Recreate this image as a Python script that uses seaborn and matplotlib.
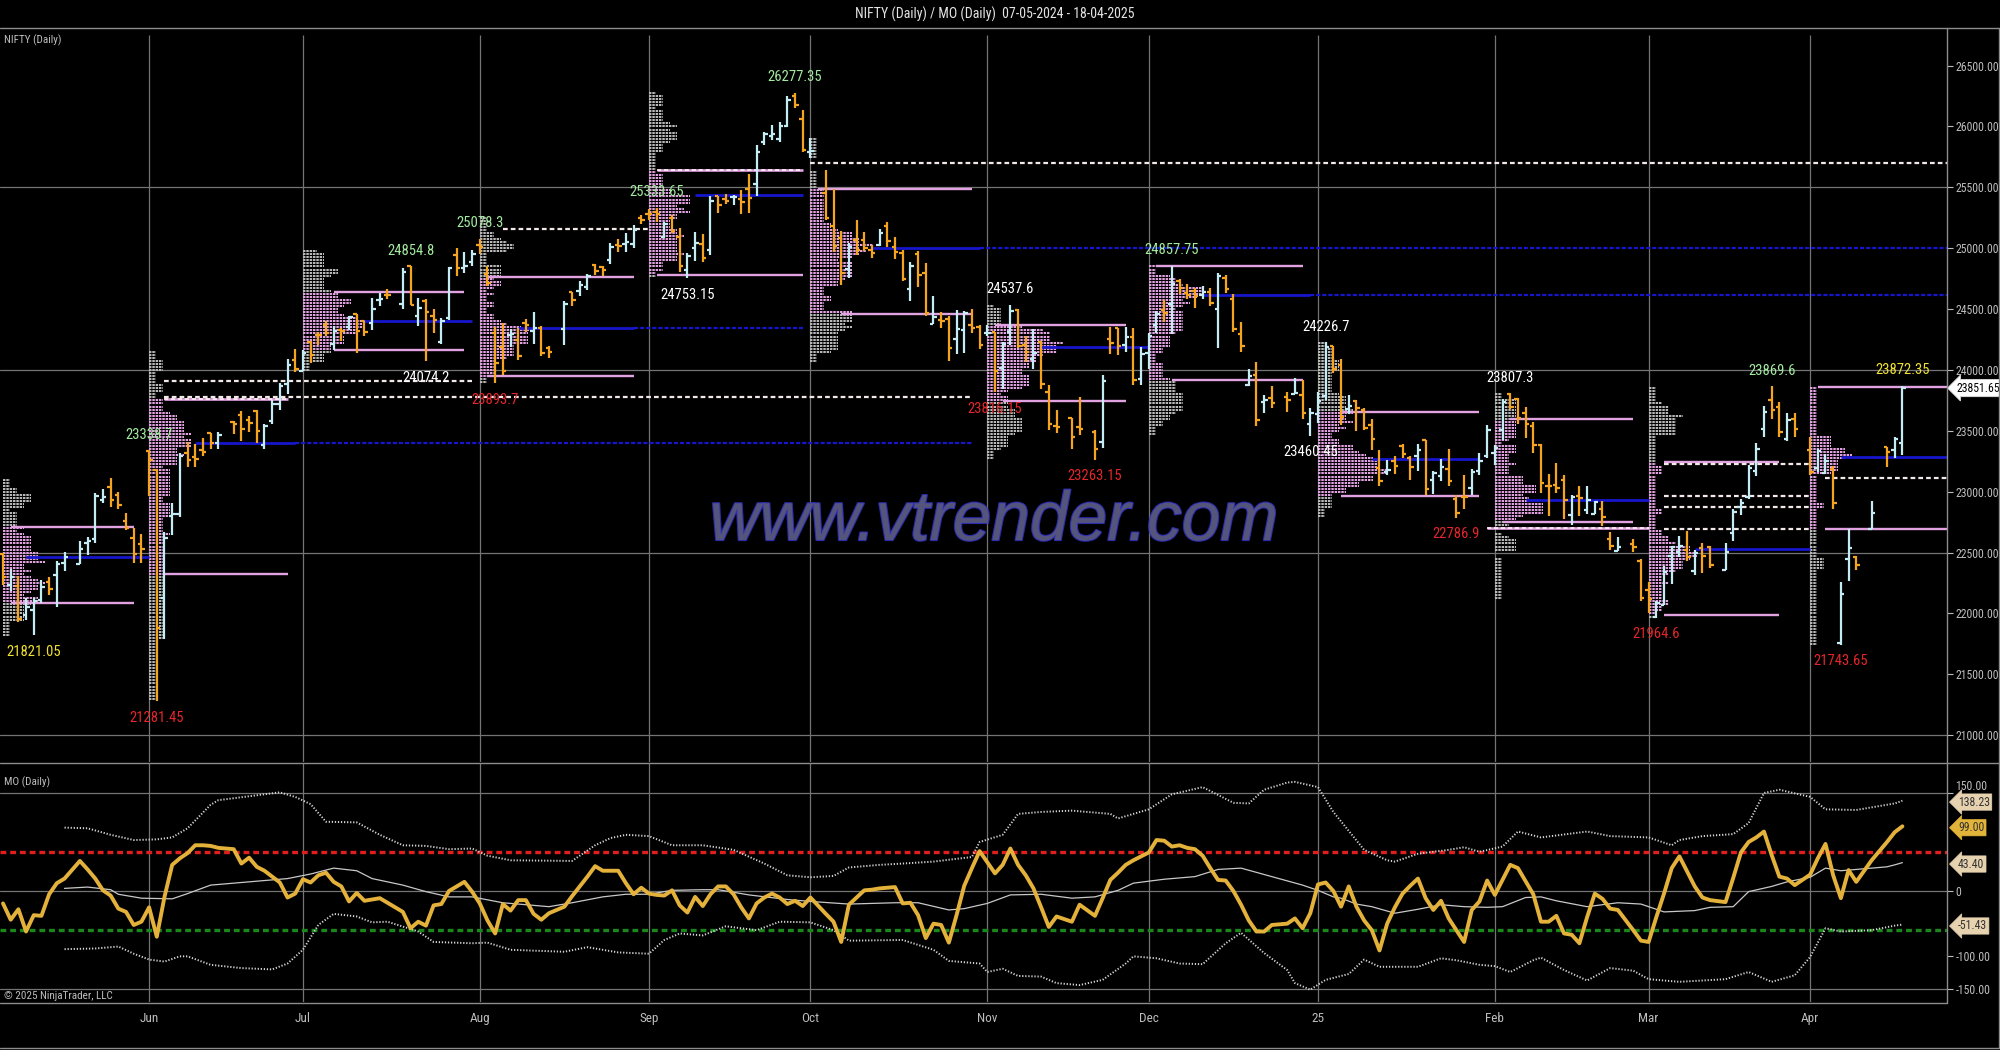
import numpy as np
import pandas as pd
import matplotlib
matplotlib.use("Agg")
import matplotlib.pyplot as plt
import seaborn as sns
from matplotlib.collections import LineCollection
from matplotlib import font_manager as fm
from matplotlib.lines import Line2D
import matplotlib.patheffects as pe

# ---------------------------------------------------------------- data
START = "2024-05-07"
LAST = "2025-04-17"
holidays = ["2024-05-20", "2024-06-17", "2024-07-17", "2024-08-15", "2024-10-02",
            "2024-11-15", "2024-11-20", "2024-12-25", "2025-02-26", "2025-03-14",
            "2025-03-31", "2025-04-10", "2025-04-14"]

opens = [22489,22231,22224,21990,22027,22113,22255,22319,22415,22405,22577,22614,22931,23038,22977,22763,22617,22568,
         23337,23180,22128,22798,22821,23319,23283,23345,23480,23399,23571,23630,23586,23665,23382,23578,23724,23881,24085,
         23993,24228,24291,24369,24213,24330,24351,24459,24400,24388,24573,24615,24543,24854,24445,24568,24444,24230,24423,24943,24839,24890,
         25030,24789,24302,24190,24289,24248,24386,24320,24342,24184,24334,24637,24648,24680,24863,24846,24906,25024,25031,25035,25249,
         25283,25300,25089,25250,25094,24823,24999,25035,24986,25430,25406,25417,25402,25487,25526,25873,25921,25900,26005,26249,26061,
         25788,25453,25181,25085,24832,25066,25067,24985,25024,25186,25008,24962,24664,24956,24798,24378,24412,24418,24252,24328,24372,24349,
         24302,24315,24016,24308,24489,24207,24087,24226,23822,23542,23605,23529,23489,23412,24254,24343,24204,24275,23927,
         24140,24368,24489,24540,24729,24633,24652,24615,24642,24498,24753,24584,24298,23877,23960,23738,23770,23775,23802,23796,23560,
         23637,23783,24196,24045,23679,23746,23675,23551,23196,23165,23250,23377,23277,23291,23422,23099,23128,23183,22941,22960,23027,23169,23296,
         23319,23509,23801,23761,23650,23543,23383,23050,23055,23097,22809,22963,22847,22821,22857,22609,22516,22568,22433,
         22194,21974,22073,22476,22508,22521,22345,22536,22542,22353,22663,22874,22953,23169,23515,23751,23700,23433,23600,
         23342,23193,23150,23190,21758,22446,22460,22695,23368,23345,23402]
highs = [22499,22368,22307,22131,22131,22271,22297,22432,22503,22592,22629,22993,23026,23111,22998,22825,22705,22654,
         23339,23180,22671,22911,23320,23412,23389,23441,23482,23491,23579,23665,23625,23668,23555,23755,23890,24087,24174,
         24165,24237,24309,24401,24364,24345,24443,24462,24402,24593,24636,24662,24837,24855,24595,24582,24504,24426,24848,24999,24971,24984,
         25078,24851,24350,24382,24338,24341,24420,24473,24360,24196,24563,24638,24734,24787,24867,24858,25044,25074,25129,25193,25269,
         25319,25334,25216,25275,25169,24957,25131,25113,25433,25430,25445,25441,25482,25611,25849,25956,26011,26033,26251,26277,26134,
         25907,25639,25485,25143,25044,25234,25134,25028,25159,25212,25093,24982,24886,24978,24882,24604,24480,24440,24492,24484,24499,24372,
         24368,24316,24230,24537,24504,24276,24336,24242,23873,23675,23606,23780,23507,23956,24352,24343,24354,24345,24189,
         24301,24481,24573,24857,24751,24705,24677,24691,24675,24793,24782,24625,24395,24004,24065,23793,23867,23823,23938,23916,23689,
         23822,24227,24196,24090,23795,23751,23690,23597,23340,23264,23294,23391,23292,23391,23426,23169,23270,23348,22975,23137,23184,23322,23546,
         23382,23762,23807,23773,23694,23569,23391,23145,23235,23134,22974,23050,23050,22924,22922,22668,22626,22614,22450,
         22262,22106,22394,22556,22633,22677,22522,22577,22558,22577,22857,22941,23216,23403,23708,23870,23736,23646,23649,
         23450,23350,23306,23214,22255,22697,22468,22924,23368,23452,23872]
lows = [22232,22185,21932,21950,21821,22082,22151,22054,22345,22404,22483,22578,22908,22872,22858,22685,22418,22417,
        22964,21281,21791,22642,22789,23207,23207,23296,23353,23354,23474,23413,23492,23398,23350,23560,23673,23806,23985,
        23992,24056,24207,24281,24168,24240,24331,24141,24281,24331,24523,24587,24504,24533,24362,24074,24307,24210,24410,24774,24799,24856,
        24956,24686,23894,23960,24185,24079,24311,24212,24117,24099,24204,24522,24607,24654,24784,24771,24874,24973,24965,24998,25200,
        25235,25213,25084,25127,24802,24753,24897,24885,24942,25292,25360,25352,25285,25286,25427,25848,25887,25872,25998,26151,25794,
        25739,25230,24966,24694,24756,24947,24980,24920,25017,25009,24908,24728,24568,24679,24445,24378,24342,24073,24135,24140,24307,24172,
        24280,23816,23843,24204,24179,24066,24004,23840,23510,23484,23350,23464,23263,23359,24135,24125,24146,23873,23875,
        24008,24301,24395,24296,24620,24580,24511,24584,24527,24180,24630,24311,24149,23870,23538,23647,23685,23653,23800,23600,23460,
        23562,23751,23977,23551,23637,23496,23503,23344,23048,23134,23147,23273,23100,23170,22976,22982,23091,23050,22787,22857,22976,23139,23278,
        23222,23423,23680,23556,23443,23316,22987,22799,22993,22775,22725,22801,22815,22813,22720,22519,22513,22508,22105,
        22005,21965,22068,22245,22464,22429,22315,22330,22377,22353,22599,22808,22941,23133,23451,23601,23451,23413,23451,
        23136,23158,23146,22857,21744,22270,22354,22695,23207,23273,23298]
closes = [22303,22302,21958,22055,22104,22218,22201,22404,22467,22529,22598,22968,22957,22932,22888,22705,22488,22531,
          23264,21884,22620,22821,23290,23259,23265,23323,23399,23466,23558,23516,23567,23501,23538,23721,23869,24044,24011,
          24142,24124,24286,24302,24324,24321,24433,24324,24316,24502,24587,24613,24801,24531,24509,24479,24413,24406,24835,24836,24857,24951,
          25011,24718,24055,23993,24297,24117,24368,24347,24139,24144,24541,24573,24699,24770,24811,24823,25010,25017,25052,25152,25236,
          25279,25280,25198,25145,24852,24936,25041,24918,25389,25357,25384,25419,25378,25416,25791,25939,25940,26005,26216,26179,25811,
          25797,25250,25015,24796,25013,24982,24998,24964,25128,25057,24971,24750,24854,24781,24472,24435,24399,24181,24339,24467,24341,24205,
          24304,23995,24213,24484,24199,24148,24141,23884,23560,23533,23453,23518,23349,23907,24222,24195,24275,23914,24131,
          24276,24457,24468,24708,24677,24619,24610,24642,24549,24768,24668,24336,24199,23952,23588,23753,23728,23751,23813,23645,23645,
          23743,24189,24005,23616,23707,23689,23527,23432,23086,23176,23213,23312,23203,23345,23025,23155,23205,23092,22829,22957,23163,23250,23508,
          23361,23739,23696,23603,23560,23382,23072,23046,23031,22929,22960,22945,22933,22913,22796,22553,22548,22545,22125,
          22119,22083,22337,22545,22553,22460,22498,22470,22397,22509,22834,22907,23191,23350,23658,23669,23487,23592,23519,
          23165,23332,23250,22904,22162,22536,22399,22829,23328,23437,23851.65]

# MO oscillator, one value per session
mo = [-19,-44,-28,-62,-37,-38,-5,12,19,46,33,19,1,-7,-27,-32,-52,-47,
      -25,-70,-9,40,50,58,70,70,69,66,64,42,51,37,31,22,13,-10,-4,
      18,13,24,28,14,7,-16,-3,-15,-13,-11,-18,-32,-57,-47,-53,-22,-20,0,7,14,-1,
      -19,-45,-65,-20,-30,-14,-14,-35,-44,-34,-24,-8,7,22,38,31,31,31,12,-5,5,
      -4,-6,-7,1,-22,-33,-9,-23,-5,7,7,-5,-25,-42,-19,-10,-4,-10,-20,-15,-23,
      -10,-35,-47,-78,-21,-10,1,2,4,5,6,-19,-18,-37,-72,-50,-52,-79,-37,8,35,61,
      44,27,40,65,40,24,4,-25,-55,-39,-47,-21,-38,-11,17,28,40,47,53,
      59,78,77,68,70,66,64,54,35,17,16,0,-21,-45,-62,-62,-52,-50,-42,-57,-34,
      10,13,0,-24,7,-24,-45,-60,-91,-50,-25,-4,8,19,-11,-29,-15,-42,-60,-78,-29,-16,16,
      -6,17,40,35,15,-5,-47,-47,-38,-65,-67,-80,-40,-4,-12,-27,-29,-60,-76,
      -78,-40,-4,35,53,30,7,-10,-14,-17,20,59,75,82,91,55,22,19,9,
      25,50,72,24,-11,32,14,47,75,90,99]

# MO average and envelope, read at sample sessions (session number)
sma_bar = [8,10,13,14,17,21,23,26,29,33,35,38,41,44,46,49,52,55,58,62,65,68,70,74,77,80,83,87,89,93,
           98,101,105,111,114,118,120,123,126,130,133,135,138,140,144,148,151,154,158,161,163,165,166,168,170,
           173,176,179,182,185,187,190,192,194,198,202,204,207,211,213,215,217,220,222,224,226,228,231,232,233,234]
sma_val = [4,6,2,-5,-11,-12,-4,9,13,17,19,26,35,31,19,9,-1,-9,-9,-18,-21,-24,-18,-9,-5,-5,1,2,2,-6,
           -13,-16,-20,-18,-18,-29,-27,-19,-6,-5,-11,-9,1,12,18,22,33,35,22,9,1,-9,-11,-20,-24,
           -34,-28,-21,-24,-25,-24,-10,-9,-15,-24,-18,-20,-32,-30,-25,-24,-1,7,14,21,35,31,35,37,40,43.4]
up_bar = [8,10,13,16,19,21,23,26,27,30,34,36,38,40,44,47,49,52,55,58,60,63,70,73,75,77,80,83,87,91,
          95,98,101,103,105,109,112,116,121,122,125,127,130,133,137,138,142,145,149,153,155,157,159,160,163,165,
          169,172,173,176,180,182,184,187,189,192,198,201,205,208,209,212,215,217,219,221,224,226,230,231,233,234]
up_val = [97,96,86,78,79,82,96,132,139,145,151,144,133,106,105,86,70,69,64,65,54,47,46,70,81,86,84,70,70,63,
          42,24,21,23,36,40,42,45,52,75,86,118,121,123,118,111,125,148,159,135,134,155,166,167,159,121,
          63,47,45,57,63,67,60,68,91,82,91,84,82,70,78,84,87,104,150,155,144,125,124,128,134,138.23]
lo_bar = [8,11,14,16,18,20,22,23,26,29,33,35,37,39,41,44,46,48,51,53,58,60,63,69,72,76,80,82,84,87,
          90,94,97,101,103,105,112,116,118,122,123,125,127,130,132,134,136,139,140,143,146,149,152,154,157,159,
          160,162,164,167,169,171,176,179,181,184,186,188,191,192,195,198,201,203,205,209,214,217,220,223,
          224,226,228,231,233,234]
lo_val = [-89,-88,-85,-96,-105,-108,-100,-100,-113,-118,-120,-111,-90,-52,-35,-39,-48,-47,-62,-78,-80,-79,-90,-93,-86,-94,-96,-75,-65,-68,
          -54,-60,-47,-48,-60,-76,-75,-90,-107,-111,-124,-119,-130,-131,-141,-144,-136,-111,-100,-103,-111,-112,-80,-64,-95,-121,
          -141,-151,-136,-127,-105,-116,-116,-103,-106,-113,-115,-124,-106,-102,-121,-137,-118,-122,-135,-139,-135,-124,-139,-129,
          -101,-57,-62,-60,-53,-51.43]
mo_upper_ref = 60
mo_lower_ref = -60

# monthly profile value areas (May .. Apr)
va_high = [22710, 23760, 24640, 24760, 25645, 25487, 24370, 24855, 23655, 23597, 23245, 23860]
va_low = [22090, 22325, 24164, 23950, 24780, 24460, 23745, 23918, 22965, 22752, 21988, 22694]

# reference levels: price, from, to, kind
lvl_price = [22710, 22090, 22460, 23760, 22325, 23400, 23400, 23780, 23910, 24640, 24164, 24400,
             24760, 23950, 24345, 24345, 25155, 25645, 24780, 25437, 25700, 25487, 24460, 25000, 25000,
             24370, 23745, 24190, 24855, 23918, 24616, 24616, 23655, 22965, 23270, 23597, 22752, 22702,
             22932, 23245, 23230, 21988, 22530, 22965, 22875, 22694, 23860, 22694, 23286, 23113]
lvl_from = ["2024-05-08", "2024-05-08", "2024-05-10", "2024-06-05", "2024-06-05", "2024-06-11", "2024-06-28",
            "2024-06-05", "2024-06-05", "2024-07-05", "2024-07-05", "2024-07-11", "2024-08-02", "2024-08-02",
            "2024-08-08", "2024-08-29", "2024-08-06", "2024-09-03", "2024-09-03", "2024-09-10", "2024-10-01",
            "2024-10-02", "2024-10-07", "2024-10-11", "2024-10-31", "2024-11-04", "2024-11-05", "2024-11-12",
            "2024-12-03", "2024-12-05", "2024-12-11", "2024-12-31", "2025-01-06", "2025-01-06", "2025-01-10",
            "2025-02-05", "2025-02-04", "2025-01-31", "2025-02-07", "2025-03-05", "2025-03-05", "2025-03-05",
            "2025-03-11", "2025-03-05", "2025-03-05", "2025-03-05", "2025-04-02", "2025-04-03", "2025-04-07",
            "2025-04-03"]
lvl_to = ["2024-05-30", "2024-05-30", "2024-06-03", "2024-06-27", "2024-06-27", "2024-06-28", "2024-10-30",
          "2024-10-30", "2024-07-31", "2024-07-30", "2024-07-30", "2024-07-31", "2024-08-29", "2024-08-29",
          "2024-08-29", "2024-09-30", "2024-09-02", "2024-09-30", "2024-09-30", "2024-09-30", "2025-05-30",
          "2024-10-30", "2024-10-30", "2024-10-31", "2025-05-30", "2024-11-27", "2024-11-27", "2024-12-02",
          "2024-12-30", "2024-12-30", "2024-12-31", "2025-05-30", "2025-01-30", "2025-01-30", "2025-01-30",
          "2025-02-27", "2025-02-27", "2025-03-03", "2025-03-03", "2025-03-26", "2025-04-01", "2025-03-26",
          "2025-04-01", "2025-04-01", "2025-04-01", "2025-04-01", "2025-05-30", "2025-05-30", "2025-05-30",
          "2025-05-30"]
lvl_kind = ["va", "va", "poc", "vaw", "va", "poc", "npoc", "lvl", "lvl", "va", "va", "poc",
            "va", "va", "poc", "npoc", "lvl", "vaw", "va", "poc", "lvl", "va", "va", "poc", "npoc",
            "va", "va", "poc", "va", "va", "poc", "npoc", "va", "va", "poc", "va", "va", "vaw",
            "poc", "va", "lvl", "va", "poc", "lvl", "lvl", "lvl", "va", "va", "poc", "lvl"]

# swing labels
sw_date = ["2024-05-13", "2024-06-03", "2024-06-04", "2024-07-19", "2024-07-23", "2024-08-01", "2024-08-05",
           "2024-09-03", "2024-09-09", "2024-09-27", "2024-11-04", "2024-11-06", "2024-11-21", "2024-12-05",
           "2024-12-31", "2025-01-02", "2025-01-27", "2025-02-05", "2025-03-04", "2025-03-25", "2025-04-07",
           "2025-04-17"]
sw_price = [21821.05, 23338.7, 21281.45, 24854.8, 24074.2, 25078.3, 23893.7, 25333.65, 24753.15, 26277.35,
            23816.15, 24537.6, 23263.15, 24857.75, 23460.45, 24226.7, 22786.9, 23807.3, 21964.6, 23869.6,
            21743.65, 23872.35]
sw_side = ["L", "H", "L", "H", "L", "H", "L", "H", "L", "H", "L", "H", "L", "H", "L", "H", "L", "H", "L", "H", "L", "H"]
sw_color = ["yellow", "green", "red", "green", "white", "green", "red", "green", "white", "green", "red",
            "white", "red", "green", "white", "white", "red", "white", "red", "green", "red", "yellow"]

month_labels = ["Jun", "Jul", "Aug", "Sep", "Oct", "Nov", "Dec", "25", "Feb", "Mar", "Apr"]
price_ticks = [21000, 21500, 22000, 22500, 23000, 23500, 24000, 24500, 25000, 25500, 26000, 26500]
price_grid = [21000, 22500, 24000, 25500]
osc_ticks = [150, 0, -100, -150]
osc_grid = [150, 0, -150]

# ---------------------------------------------------------------- style
sns.set_theme(style="dark", rc={"axes.facecolor": "black", "figure.facecolor": "black",
                                "axes.grid": False, "savefig.facecolor": "black"})
_names = {f.name for f in fm.fontManager.ttflist}
NARROW = next((n for n in ["Liberation Sans Narrow", "Roboto Condensed", "Liberation Sans"] if n in _names),
              "DejaVu Sans")
plt.rcParams["font.family"] = [NARROW, "DejaVu Sans"]
plt.rcParams["lines.scale_dashes"] = False

UPC, DNC = "#c4ecf4", "#f4a41e"
PINK, GREY = "#e2a2e2", "#b8b8b8"
BLUE = "#1616cc"
GRID = "#747474"
TXT = "#bdbdbd"
LBL = {"green": "#a4eaa0", "red": "#e4262a", "white": "#ffffff", "yellow": "#f2e230"}

W, H = 2000, 1050
fig = plt.figure(figsize=(W / 100, H / 100), dpi=100)
fy = lambda p: 1 - p / H
ax1 = fig.add_axes([0, fy(762), 1947 / W, (762 - 28) / H])
ax2 = fig.add_axes([0, fy(1002), 1947 / W, (1002 - 763) / H])
for ax in (ax1, ax2):
    ax.set_facecolor("black")
    for s in ax.spines.values():
        s.set_visible(False)

# ---------------------------------------------------------------- time axis
t0 = np.datetime64(START, "D")
days = pd.bdate_range(START, LAST)
trade = days[~days.isin(pd.to_datetime(holidays))]
tdays = trade.values.astype("datetime64[D]")
xs = np.busday_count(t0, tdays).astype(float)
slot = lambda d: float(np.busday_count(t0, np.datetime64(d, "D")))
O, Hh, L, C = map(np.asarray, (opens, highs, lows, closes))
months = trade.to_period("M")
mlist = months.unique()
mstart = np.array([xs[months == m][0] for m in mlist])
XL = (-0.39, 252.8)

# ---------------------------------------------------------------- price panel
ax1.set_xlim(*XL)
ax1.set_ylim(20780, 26809)
for g in price_grid:
    ax1.axhline(g, color=GRID, lw=0.9, zorder=0)
for xm in mstart[1:]:
    ax1.vlines(xm, 20780, 26750, color=GRID, lw=0.9, zorder=0)
    ax2.axvline(xm, color=GRID, lw=0.9, zorder=0)

# market profiles (TPO counts per month)
STEP, TPO_W = 25, 0.9
segs, cols = [], []
for k, m in enumerate(mlist):
    sel = months == m
    lo, hi = L[sel], Hh[sel]
    levels = np.arange(np.floor(lo.min() / STEP) * STEP, hi.max() + 1, STEP)
    cnt = ((lo[:, None] <= levels) & (hi[:, None] >= levels)).sum(0)
    x0 = mstart[k]
    for lv, c in zip(levels, cnt):
        if c == 0:
            continue
        segs.append([(x0, lv), (x0 + c * TPO_W, lv)])
        cols.append(PINK if va_low[k] <= lv <= va_high[k] else GREY)
ax1.add_collection(LineCollection(segs, colors=cols, linewidths=1.45,
                                  linestyles=[(0, (1.75, 0.65))], zorder=2))

# reference levels
for p, a, b, kd in zip(lvl_price, lvl_from, lvl_to, lvl_kind):
    xa, xb = slot(a), slot(b)
    if kd == "va":
        ax1.hlines(p, xa, xb, colors=PINK, lw=1.7, zorder=3)
    elif kd == "vaw":
        ax1.hlines(p, xa, xb, colors=PINK, lw=1.9, zorder=3)
        ax1.hlines(p, xa, xb, colors="#fff4f4", lw=1.2, linestyles=[(0, (3.0, 2.0))], zorder=3)
    elif kd == "poc":
        ax1.hlines(p, xa, xb, colors=BLUE, lw=2.0, zorder=3)
    elif kd == "npoc":
        ax1.hlines(p, xa, xb, colors=BLUE, lw=1.6, linestyles=[(0, (3.0, 1.4))], zorder=3)
    else:
        ax1.hlines(p, xa, xb, colors="#f2e8e8", lw=1.6, linestyles=[(0, (3.4, 2.2))], zorder=3)

# watermark
fig.text(994 / W, fy(522), "www.vtrender.com", ha="center", va="center", fontsize=50,
         fontstyle="italic", family=["Liberation Sans", "DejaVu Sans"], color="#58587c", alpha=0.85,
         zorder=4, path_effects=[pe.Stroke(linewidth=1.6, foreground="#3434c8"), pe.Normal()])

# OHLC bars
bc = np.where(C >= O, UPC, DNC)
ax1.vlines(xs, L, Hh, colors=bc, lw=1.6, zorder=5)
ax1.hlines(O, xs - 0.45, xs, colors=bc, lw=1.6, zorder=5)
ax1.hlines(C, xs, xs + 0.45, colors=bc, lw=1.6, zorder=5)

# swing labels
for d, p, s, c in zip(sw_date, sw_price, sw_side, sw_color):
    txt = ("%.2f" % p).rstrip("0").rstrip(".")
    ax1.annotate(txt, xy=(slot(d), p), xytext=(0, 11 if s == "H" else -12), textcoords="offset points",
                 ha="center", va="center", color=LBL[c], fontsize=10.5, zorder=7)

ax1.yaxis.tick_right()
ax1.set_yticks(price_ticks)
ax1.set_yticklabels(["%.2f" % t for t in price_ticks])
ax1.tick_params(axis="y", colors=TXT, labelcolor=TXT, labelsize=8.5, length=4, width=0.8, pad=2, right=True)
ax1.set_xticks([])
ax1.annotate("%.2f" % closes[-1], xy=(1.0, closes[-1]), xycoords=("axes fraction", "data"),
             xytext=(7, 0), textcoords="offset points", ha="left", va="center", fontsize=8.5,
             color="black", bbox=dict(boxstyle="larrow,pad=0.18", fc="white", ec="#dddddd", lw=0.6),
             annotation_clip=False, zorder=8)
ax1.text(4 / 1947, 1 - (40 - 28) / (762 - 28), "NIFTY (Daily)", transform=ax1.transAxes,
         ha="left", va="center", color=TXT, fontsize=8)

# ---------------------------------------------------------------- oscillator panel
ax2.set_xlim(*XL)
ax2.set_ylim(-169.9, 195.9)
for g in osc_grid:
    ax2.axhline(g, color=GRID, lw=0.9, zorder=0)
ax2.axhline(mo_upper_ref, color="#e01e1e", lw=2.4, ls=(0, (4.2, 2.8)), zorder=2)
ax2.axhline(mo_lower_ref, color="#1b861b", lw=2.4, ls=(0, (4.2, 2.8)), zorder=2)
sx = lambda idx: xs[np.asarray(idx)]
sns.lineplot(x=sx(up_bar), y=up_val, ax=ax2, color="#d4d4d4", linewidth=1.4, linestyle=(0, (0.9, 1.3)), zorder=3)
sns.lineplot(x=sx(lo_bar), y=lo_val, ax=ax2, color="#d4d4d4", linewidth=1.4, linestyle=(0, (0.9, 1.3)), zorder=3)
sns.lineplot(x=sx(sma_bar), y=sma_val, ax=ax2, color="#c8c8c8", linewidth=0.9, zorder=4)
sns.lineplot(x=xs, y=mo, ax=ax2, color="#e4b23a", linewidth=2.8, zorder=5)
ax2.set_xlabel("")
ax2.set_ylabel("")
ax2.yaxis.tick_right()
ax2.set_yticks(osc_ticks)
ax2.set_yticklabels(["%.2f" % t if t != 0 else "0" for t in osc_ticks])
ax2.tick_params(axis="y", colors=TXT, labelcolor=TXT, labelsize=8.5, length=4, width=0.8, pad=2, right=True)
# the 150 label peeks out just above the 138.23 value tag, as in the original
for tk in ax2.yaxis.get_major_ticks():
    if tk.get_loc() == 150:
        tk.label2.set_verticalalignment("bottom")
        tk.label1.set_verticalalignment("bottom")
ax2.set_xticks(mstart[1:])
ax2.set_xticklabels(month_labels)
ax2.tick_params(axis="x", colors=TXT, labelcolor=TXT, labelsize=9.5, length=0, pad=7, bottom=True)
for v, fc in [(up_val[-1], "#e6d2ae"), (mo[-1], "#e2b43a"), (sma_val[-1], "#e6d2ae"), (lo_val[-1], "#e6d2ae")]:
    ax2.annotate("%.2f" % v, xy=(1.0, v), xycoords=("axes fraction", "data"), xytext=(8, -1),
                 textcoords="offset points", ha="left", va="center", fontsize=8.5, color="#333333",
                 bbox=dict(boxstyle="larrow,pad=0.14", fc=fc, ec=fc, lw=0.5), annotation_clip=False, zorder=8)
ax2.text(4 / 1947, 1 - (782 - 763) / (1002 - 763), "MO (Daily)", transform=ax2.transAxes,
         ha="left", va="center", color=TXT, fontsize=8)
ax2.text(4 / 1947, 1 - (996 - 763) / (1002 - 763), "\u00a9 2025 NinjaTrader, LLC", transform=ax2.transAxes,
         ha="left", va="center", color=TXT, fontsize=8)

# ---------------------------------------------------------------- frame and title
FR = "#8c8c8c"
for yy, x1 in [(28, 1.0), (762.5, 1.0), (1002.5, 1947 / W), (1048, 1.0)]:
    fig.add_artist(Line2D([0, x1], [fy(yy), fy(yy)], color=FR, lw=1.0))
fig.add_artist(Line2D([1947 / W, 1947 / W], [fy(28), fy(1003)], color=FR, lw=1.0))
fig.add_artist(Line2D([1998.5 / W, 1998.5 / W], [fy(28), fy(1048)], color=FR, lw=1.0))
fig.text(995 / W, fy(14), "NIFTY (Daily) / MO (Daily)  07-05-2024 - 18-04-2025", ha="center", va="center",
         color="#e4e4e4", fontsize=10)

fig.savefig("out.png", dpi=100, facecolor="black")
